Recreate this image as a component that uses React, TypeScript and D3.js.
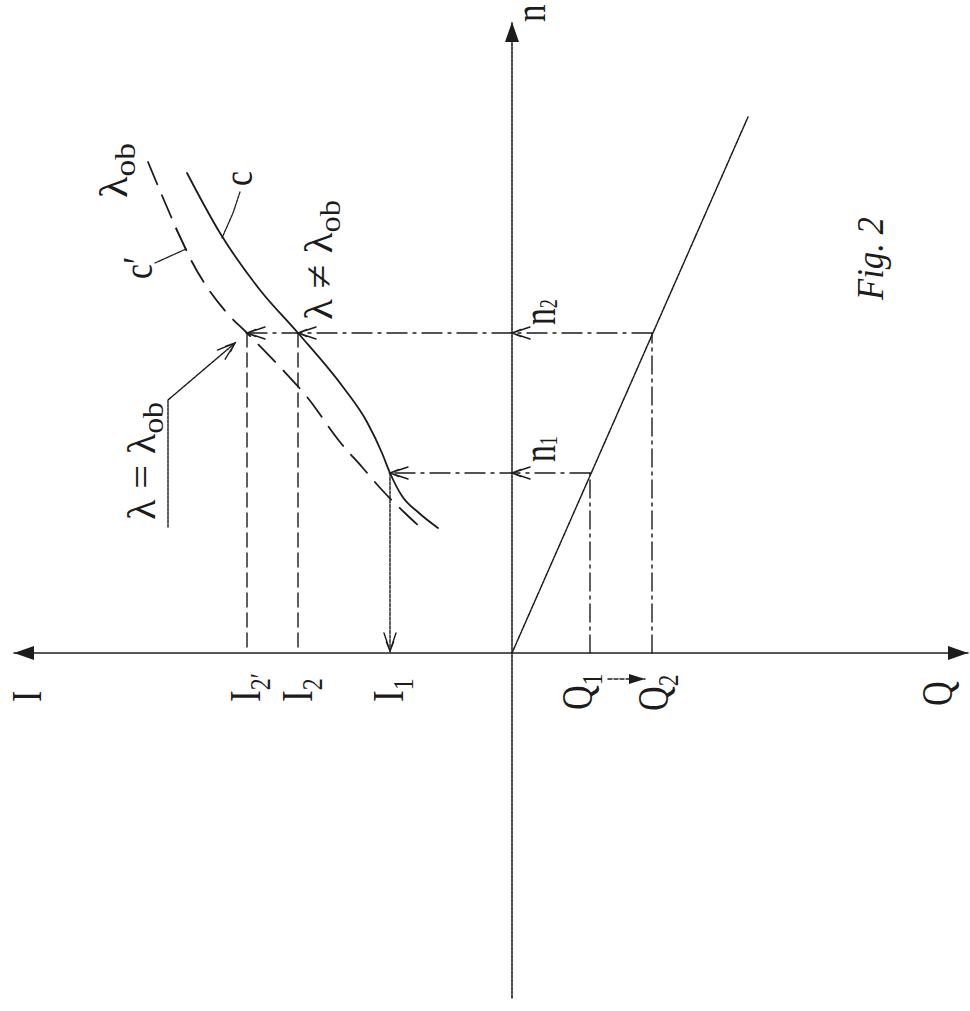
import React from "react";
import * as d3 from "d3";

const W = 970;
const H = 1011;

// operating points (model units)
const flowQ = [1.56, 2.8]; // Q1, Q2
const speedN = [3.6, 6.4]; // n1, n2
const currentI = [-2.44, -4.28, -5.3]; // I1, I2, I2'

// axis extents
const axisI = [-9.96, 9.12];
const axisN = [-6.9, 12.62];

// pump characteristic n(Q), straight through the origin
const pumpLine: [number, number][] = [
  [0, 0],
  [4.72, 10.72],
];

// curve c (lambda != lambda_ob), solid
const curveC: [number, number][] = [
  [-6.5, 9.6],
  [-5.84, 8.4],
  [-5.04, 7.26],
  [-4.28, 6.4],
  [-3.38, 5.32],
  [-2.9, 4.62],
  [-2.6, 4.0],
  [-2.44, 3.6],
  [-2.2, 3.14],
  [-1.86, 2.8],
  [-1.48, 2.5],
];

// curve c' (lambda = lambda_ob), dashed
const curveCp: [number, number][] = [
  [-7.28, 9.82],
  [-6.7, 8.46],
  [-6.44, 7.9],
  [-5.7, 6.8],
  [-5.3, 6.4],
  [-4.64, 5.72],
  [-4.1, 5.12],
  [-3.44, 4.22],
  [-3.0, 3.72],
  [-2.6, 3.26],
  [-2.1, 2.76],
  [-1.84, 2.52],
];

// leader lines for the labels
const leaderC: [number, number][] = [
  [-5.44, 9.22],
  [-5.58, 8.8],
  [-5.8, 8.3],
];
const leaderCp: [number, number][] = [
  [-7.14, 7.8],
  [-6.52, 8.08],
  [-6.72, 8.48],
];
const leaderLambda: [number, number][] = [
  [-6.88, 2.52],
  [-6.88, 5.06],
  [-5.54, 6.2],
];
const arrowQ12: [number, number][] = [
  [1.92, -0.52],
  [2.66, -0.52],
];

const x = d3.scaleLinear().domain([-10, 10]).range([12, 1012]);
const y = d3.scaleLinear().domain([0, 10]).range([653, 153]);

const ink = "#1c1c1c";
const serif = "'Liberation Serif', 'DejaVu Serif', serif";

const smooth = d3
  .line<[number, number]>()
  .x((d) => x(d[0]))
  .y((d) => y(d[1]))
  .curve(d3.curveMonotoneX);

const straight = d3
  .line<[number, number]>()
  .x((d) => x(d[0]))
  .y((d) => y(d[1]));

// open arrowhead, tip at (tx,ty), pointing from (fx,fy)
function chevron(tx: number, ty: number, fx: number, fy: number, len = 18, w = 6) {
  const a = Math.atan2(ty - fy, tx - fx);
  const bx = tx - Math.cos(a) * len;
  const by = ty - Math.sin(a) * len;
  const px = -Math.sin(a) * w;
  const py = Math.cos(a) * w;
  const mx = tx - Math.cos(a) * len * 0.5;
  const my = ty - Math.sin(a) * len * 0.5;
  return (
    `M${bx + px},${by + py}L${tx},${ty}L${bx - px},${by - py}` +
    `M${mx + px * 0.6},${my + py * 0.6}L${tx},${ty}L${mx - px * 0.6},${my - py * 0.6}`
  );
}

// filled arrowhead
function tri(tx: number, ty: number, fx: number, fy: number, len = 20, w = 7) {
  const a = Math.atan2(ty - fy, tx - fx);
  const bx = tx - Math.cos(a) * len;
  const by = ty - Math.sin(a) * len;
  const px = -Math.sin(a) * w;
  const py = Math.cos(a) * w;
  return `M${tx},${ty}L${bx + px},${by + py}L${bx - px},${by - py}Z`;
}

type LabelProps = {
  px: number;
  py: number;
  size: number;
  sx?: number;
  len?: number;
  italic?: boolean;
  children: React.ReactNode;
};

// text reads bottom-to-top like the scanned figure
const Label = ({ px, py, size, sx = 1, len, italic, children }: LabelProps) => (
  <text
    transform={`translate(${px},${py}) rotate(-90) scale(${sx},1)`}
    fontSize={size}
    fontFamily={serif}
    fontStyle={italic ? "italic" : "normal"}
    fill={ink}
    textLength={len}
    lengthAdjust={len ? "spacingAndGlyphs" : undefined}
  >
    {children}
  </text>
);

const Sub = ({ children, size = 30, dy = 10 }: { children: React.ReactNode; size?: number; dy?: number }) => (
  <tspan fontSize={size} dy={dy}>
    {children}
  </tspan>
);

export default function App() {
  const x0 = x(0);
  const y0 = y(0);
  const [Q1, Q2] = flowQ;
  const [n1, n2] = speedN;
  const [I1, I2, I2p] = currentI;

  return (
    <svg
      width={W}
      height={H}
      style={{ position: "absolute", left: 0, top: 0, background: "#fff" }}
    >
      <g stroke={ink} fill="none" strokeLinecap="round">
        {/* I / Q axis */}
        <line
          x1={x(axisI[0])}
          x2={x(axisI[1])}
          y1={y0}
          y2={y0}
          strokeWidth={1.6}
          strokeDasharray="3 1"
        />
        {/* n axis */}
        <line
          x1={x0}
          x2={x0}
          y1={y(axisN[0])}
          y2={y(axisN[1])}
          strokeWidth={1.6}
          strokeDasharray="3 1"
        />

        {/* pump line */}
        <path d={straight(pumpLine) ?? ""} strokeWidth={1.5} strokeDasharray="3 1" />

        {/* Q verticals */}
        {flowQ.map((q, i) => (
          <line
            key={"q" + i}
            x1={x(q)}
            x2={x(q)}
            y1={y0}
            y2={y(speedN[i])}
            strokeWidth={1.4}
            strokeDasharray="18 5 3 5"
          />
        ))}

        {/* horizontal projections n -> curves */}
        <line x1={x(Q1)} x2={x(I1)} y1={y(n1)} y2={y(n1)} strokeWidth={1.4} strokeDasharray="20 6 3 6" />
        <line x1={x(Q2)} x2={x(I2p)} y1={y(n2)} y2={y(n2)} strokeWidth={1.4} strokeDasharray="20 6 3 6" />

        {/* I verticals */}
        <line x1={x(I1)} x2={x(I1)} y1={y(n1)} y2={y0} strokeWidth={1.4} strokeDasharray="3 1.5" />
        <line x1={x(I2)} x2={x(I2)} y1={y(n2)} y2={y0} strokeWidth={1.4} strokeDasharray="14 6" />
        <line x1={x(I2p)} x2={x(I2p)} y1={y(n2)} y2={y0} strokeWidth={1.4} strokeDasharray="14 6" />

        {/* curves */}
        <path d={smooth(curveC) ?? ""} strokeWidth={1.8} />
        <path d={smooth(curveCp) ?? ""} strokeWidth={1.8} strokeDasharray="24 12" />

        {/* leaders */}
        <path d={straight(leaderC) ?? ""} strokeWidth={1.3} strokeDasharray="3 1" />
        <path d={straight(leaderCp) ?? ""} strokeWidth={1.3} strokeDasharray="3 1" />
        <path d={straight(leaderLambda) ?? ""} strokeWidth={1.4} strokeDasharray="3 1" />
        <path d={straight(arrowQ12) ?? ""} strokeWidth={1.4} strokeDasharray="4 2" />

        {/* open arrowheads */}
        <path d={chevron(x0, y(n1), x(Q1), y(n1))} strokeWidth={1.4} />
        <path d={chevron(x(I1), y(n1), x(Q1), y(n1))} strokeWidth={1.4} />
        <path d={chevron(x0, y(n2), x(Q2), y(n2))} strokeWidth={1.4} />
        <path d={chevron(x(I2), y(n2), x(Q2), y(n2))} strokeWidth={1.4} />
        <path d={chevron(x(I2p), y(n2), x(Q2), y(n2))} strokeWidth={1.4} />
        <path d={chevron(x(I1), y0 - 2, x(I1), y(n1))} strokeWidth={1.4} />
        <path
          d={chevron(
            x(leaderLambda[2][0]),
            y(leaderLambda[2][1]),
            x(leaderLambda[1][0]),
            y(leaderLambda[1][1])
          )}
          strokeWidth={1.4}
        />
      </g>

      {/* filled axis arrowheads */}
      <g fill={ink} stroke="none">
        <path d={tri(x(axisI[0]), y0, x(0), y0)} />
        <path d={tri(x(axisI[1]), y0, x(0), y0)} />
        <path d={tri(x0, y(axisN[1]), x0, y0)} />
        <path
          d={tri(x(arrowQ12[1][0]), y(arrowQ12[1][1]), x(arrowQ12[0][0]), y(arrowQ12[0][1]), 16, 5)}
        />
      </g>

      {/* axis labels */}
      <Label px={x(axisI[0]) + 27} py={y0 + 49} size={42} sx={0.8}>I</Label>
      <Label px={x(I2p) + 13} py={y0 + 49} size={44} sx={0.8}>
        I<Sub>2′</Sub>
      </Label>
      <Label px={x(I2) + 14} py={y0 + 49} size={44} sx={0.8}>
        I<Sub>2</Sub>
      </Label>
      <Label px={x(I1) + 13} py={y0 + 49} size={44} sx={0.8}>
        I<Sub>1</Sub>
      </Label>
      <Label px={x(Q1) + 2} py={y0 + 57} size={44} sx={0.78}>
        Q<Sub>1</Sub>
      </Label>
      <Label px={x(Q2) + 16} py={y0 + 58} size={44} sx={0.78}>
        Q<Sub>2</Sub>
      </Label>
      <Label px={x(axisI[1]) - 16} py={y0 + 53} size={44} sx={0.78}>Q</Label>

      <Label px={x0 + 33} py={y(axisN[1])} size={44} sx={0.8}>n</Label>
      <Label px={x0 + 43} py={y(n1) - 11} size={48} sx={0.7}>
        n<Sub size={26} dy={2}>1</Sub>
      </Label>
      <Label px={x0 + 43} py={y(n2) - 8} size={48} sx={0.7}>
        n<Sub size={26} dy={2}>2</Sub>
      </Label>

      {/* curve labels */}
      <Label px={252} py={186} size={42} sx={0.8}>c</Label>
      <Label px={152} py={279} size={42} sx={0.8}>c′</Label>
      <Label px={127} py={198} size={40} len={55}>
        λ<Sub dy={8}>ob</Sub>
      </Label>
      <Label px={332} py={320} size={40} len={120}>
        λ ≠ λ<Sub dy={8}>ob</Sub>
      </Label>
      <Label px={155} py={520} size={40} len={118}>
        λ = λ<Sub dy={8}>ob</Sub>
      </Label>

      <Label px={883} py={300} size={38} len={83} italic>
        Fig. 2
      </Label>
    </svg>
  );
}
